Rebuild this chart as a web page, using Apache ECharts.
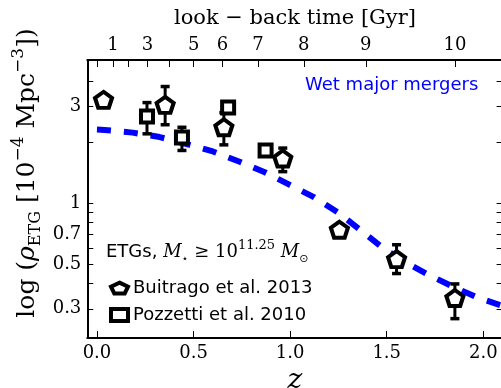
<!DOCTYPE html>
<html>
<head>
<meta charset="utf-8">
<script src="https://cdn.jsdelivr.net/npm/echarts@6/dist/echarts.min.js"></script>
<style>
  html, body { margin: 0; padding: 0; background: #fff; }
  #chart { width: 501px; height: 388px; }
</style>
</head>
<body>
<div id="chart"></div>
<script>
// Buitrago et al. 2013 (pentagons): redshift, number density, error range
const buitragoZ   = [0.034, 0.353, 0.657, 0.962, 1.255, 1.551, 1.853];
const buitragoRho = [3.24, 3.06, 2.37, 1.66, 0.738, 0.528, 0.339];
const buitragoLo  = [3.18, 2.44, 1.94, 1.43, 0.715, 0.448, 0.268];
const buitragoHi  = [3.30, 3.77, 2.80, 1.87, 0.760, 0.622, 0.398];

// Pozzetti et al. 2010 (squares)
const pozzettiZ   = [0.259, 0.440, 0.679, 0.873];
const pozzettiRho = [2.68, 2.11, 2.97, 1.82];
const pozzettiLo  = [2.20, 1.82, 2.88, 1.76];
const pozzettiHi  = [3.14, 2.37, 3.06, 1.88];

// Wet major merger model curve
const modelZ   = [0.0, 0.04, 0.185, 0.325, 0.48, 0.60, 0.739, 0.869, 0.998, 1.123, 1.247, 1.366, 1.486, 1.60, 1.724, 1.853, 1.972, 2.10];
const modelRho = [2.31, 2.30, 2.23, 2.12, 1.94, 1.80, 1.60, 1.42, 1.23, 1.07, 0.899, 0.732, 0.593, 0.507, 0.438, 0.382, 0.340, 0.31];

// Axis ticks
const zTicks = [0, 0.5, 1, 1.5, 2];
const rhoLabelTicks = [0.3, 0.5, 0.7, 1, 3];
const rhoAllTicks = [0.3, 0.4, 0.5, 0.6, 0.7, 0.8, 0.9, 1, 2, 3, 4];
const lookbackGyr = [0, 1, 2, 3, 4, 5, 6, 7, 8, 9, 10];
const lookbackZ   = [0.0, 0.083, 0.161, 0.261, 0.373, 0.501, 0.650, 0.834, 1.071, 1.392, 1.853];
const lookbackLabelled = [1, 3, 5, 6, 7, 8, 9, 10];

const SERIF = '"DejaVu Serif", serif';
const SANS = '"DejaVu Sans", sans-serif';
const PENTAGON = 'path://M0,-1 L0.951,-0.309 L0.588,0.809 L-0.588,0.809 L-0.951,-0.309 Z';
// wider pentagon used for the legend key
const PENTAGON_KEY = 'path://M0,-1 L1.43,-0.309 L0.88,0.809 L-0.88,0.809 L-1.43,-0.309 Z';

const Z_MIN = -0.05, Z_MAX = 2.1;
const RHO_MIN = 0.215, RHO_MAX = 5.1;

const pairs = (xs, ys) => xs.map((x, i) => [x, ys[i]]);
const ranges = (xs, lo, hi) => xs.map((x, i) => [x, lo[i], hi[i]]);

// vertical error bar with short caps at both ends
function errorBars(params, api) {
  const x = api.value(0);
  const pLo = api.coord([x, api.value(1)]);
  const pHi = api.coord([x, api.value(2)]);
  const cap = 4.5;
  return {
    type: 'group',
    children: [
      { type: 'line', shape: { x1: pLo[0], y1: pLo[1], x2: pHi[0], y2: pHi[1] }, style: { stroke: '#000', lineWidth: 3 } },
      { type: 'line', shape: { x1: pLo[0] - cap, y1: pLo[1], x2: pLo[0] + cap, y2: pLo[1] }, style: { stroke: '#000', lineWidth: 3.5 } },
      { type: 'line', shape: { x1: pHi[0] - cap, y1: pHi[1], x2: pHi[0] + cap, y2: pHi[1] }, style: { stroke: '#000', lineWidth: 3.5 } }
    ]
  };
}

const tickStyle = { color: '#000', width: 1 };
const spine = { show: true, onZero: false, lineStyle: { color: '#000', width: 2 } };

const chart = echarts.init(document.getElementById('chart'), null, { renderer: 'canvas' });

chart.setOption({
  backgroundColor: '#fff',
  animation: false,
  grid: { left: 87.3, right: -1.6, top: 60, bottom: 50, containLabel: false, outerBoundsMode: 'none' },
  xAxis: [
    {
      type: 'value', position: 'bottom', min: Z_MIN, max: Z_MAX,
      name: 'z', nameLocation: 'middle', nameGap: 25,
      nameTextStyle: { fontFamily: SERIF, fontStyle: 'italic', fontSize: 28, color: '#000' },
      splitLine: { show: false },
      axisLine: spine,
      axisTick: { show: true, inside: true, length: 7, customValues: zTicks, lineStyle: tickStyle },
      axisLabel: { customValues: zTicks, margin: 6, fontFamily: SERIF, fontSize: 18, color: '#000',
                   formatter: v => Number(v).toFixed(1) }
    },
    {
      type: 'value', position: 'top', min: Z_MIN, max: Z_MAX,
      name: 'look \u2212 back time [Gyr]', nameLocation: 'middle', nameGap: 31,
      nameTextStyle: { fontFamily: SERIF, fontSize: 21, color: '#000' },
      splitLine: { show: false },
      axisLine: spine,
      axisTick: { show: true, inside: true, length: 7, customValues: lookbackZ, lineStyle: tickStyle },
      axisLabel: {
        customValues: lookbackLabelled.map(g => lookbackZ[lookbackGyr.indexOf(g)]),
        margin: 6, fontFamily: SERIF, fontSize: 18, color: '#000',
        formatter: v => {
          let best = 0;
          lookbackZ.forEach((z, i) => { if (Math.abs(z - v) < Math.abs(lookbackZ[best] - v)) best = i; });
          return String(lookbackGyr[best]);
        }
      }
    }
  ],
  yAxis: [
    {
      type: 'log', logBase: 10, min: RHO_MIN, max: RHO_MAX, position: 'left',
      splitLine: { show: false },
      axisLine: spine,
      axisTick: { show: true, inside: true, length: 6, customValues: rhoAllTicks, lineStyle: tickStyle },
      axisLabel: { show: true, customValues: rhoLabelTicks, margin: 6, fontFamily: SERIF, fontSize: 18, color: '#000',
                   formatter: v => String(Math.round(v * 10) / 10) }
    },
    {
      type: 'log', logBase: 10, min: RHO_MIN, max: RHO_MAX, position: 'right',
      splitLine: { show: false },
      axisLine: spine,
      axisTick: { show: true, inside: true, length: 6, customValues: rhoAllTicks, lineStyle: tickStyle },
      axisLabel: { show: false }
    }
  ],
  legend: {
    left: 104, top: 274, orient: 'vertical', itemGap: 9,
    itemWidth: 17, itemHeight: 12,
    textStyle: { fontFamily: SANS, fontSize: 18, color: '#000' },
    itemStyle: { borderWidth: 4 },
    data: [
      { name: 'Buitrago et al. 2013', icon: PENTAGON_KEY },
      { name: 'Pozzetti et al. 2010', icon: 'rect' }
    ]
  },
  graphic: [
    {
      type: 'text', x: 27, y: 173, rotation: Math.PI / 2,
      style: {
        text: '{n|log (}{i|\u03c1}{s|ETG}{n| [10}{p|\u22124}{n| Mpc}{p|\u22123}{n|])}',
        align: 'center', verticalAlign: 'middle', fill: '#000',
        fontFamily: SERIF, fontSize: 25,
        rich: {
          n: { fontFamily: SERIF, fontSize: 25, lineHeight: 34, verticalAlign: 'middle' },
          i: { fontFamily: SERIF, fontStyle: 'italic', fontSize: 25, lineHeight: 34, verticalAlign: 'middle' },
          s: { fontFamily: SERIF, fontSize: 16, lineHeight: 34, verticalAlign: 'bottom' },
          p: { fontFamily: SERIF, fontSize: 17, lineHeight: 34, verticalAlign: 'top' }
        }
      }
    },
    {
      type: 'text', left: 106, top: 239,
      style: {
        text: '{a|ETGs, }{m|M}{s|\u22c6}{a| }{r|\u2265 10}{p|11.25}{a| }{m|M}{s|\u2299}',
        fill: '#000', fontFamily: SANS, fontSize: 18,
        rich: {
          a: { fontFamily: SANS, fontSize: 18, lineHeight: 26, verticalAlign: 'middle' },
          m: { fontFamily: SERIF, fontStyle: 'italic', fontSize: 18, lineHeight: 26, verticalAlign: 'middle' },
          r: { fontFamily: SERIF, fontSize: 18, lineHeight: 26, verticalAlign: 'middle' },
          s: { fontFamily: SANS, fontSize: 11, lineHeight: 26, verticalAlign: 'bottom' },
          p: { fontFamily: SERIF, fontSize: 13, lineHeight: 26, verticalAlign: 'top' }
        }
      }
    },
    {
      type: 'text', left: 305, top: 76,
      style: { text: 'Wet major mergers', fill: '#0000ff', fontFamily: SANS, fontSize: 18 }
    }
  ],
  series: [
    {
      name: 'Wet major mergers', type: 'line', data: pairs(modelZ, modelRho),
      showSymbol: false, symbol: 'none', clip: true, z: 1,
      lineStyle: { color: '#0000ff', width: 6, type: [14, 13], cap: 'butt' }
    },
    {
      name: 'Buitrago errors', type: 'custom', renderItem: errorBars, z: 2,
      encode: { x: 0, y: [1, 2] }, data: ranges(buitragoZ, buitragoLo, buitragoHi)
    },
    {
      name: 'Pozzetti errors', type: 'custom', renderItem: errorBars, z: 2,
      encode: { x: 0, y: [1, 2] }, data: ranges(pozzettiZ, pozzettiLo, pozzettiHi)
    },
    {
      name: 'Buitrago et al. 2013', type: 'scatter', data: pairs(buitragoZ, buitragoRho), z: 3,
      symbol: PENTAGON, symbolSize: [17, 16],
      itemStyle: { color: '#fff', borderColor: '#000', borderWidth: 4, opacity: 1 }
    },
    {
      name: 'Pozzetti et al. 2010', type: 'scatter', data: pairs(pozzettiZ, pozzettiRho), z: 3,
      symbol: 'rect', symbolSize: 12,
      itemStyle: { color: '#fff', borderColor: '#000', borderWidth: 4, opacity: 1 }
    }
  ]
});
</script>
</body>
</html>
